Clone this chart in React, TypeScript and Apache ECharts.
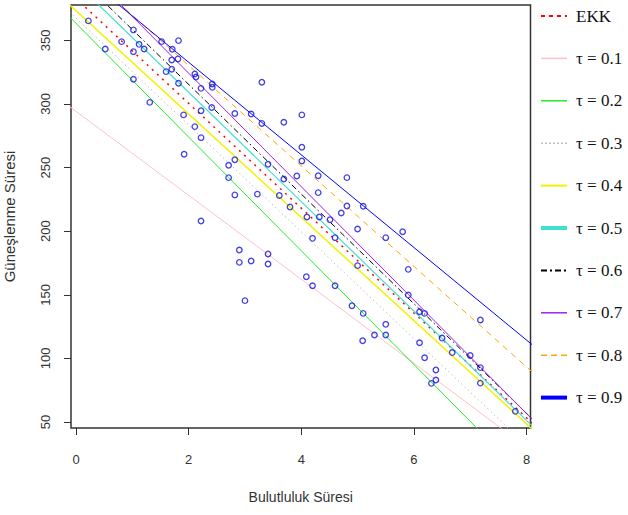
import React, { useEffect, useRef } from "react";
import * as echarts from "echarts";

// Scatter data
const cloudHours = [
  0.22, 1.02, 0.81, 0.52, 1.02, 1.12, 1.21, 1.52, 1.82, 1.71, 1.7, 1.81, 1.6, 1.7, 2.11, 2.13,
  1.02, 1.82, 2.42, 2.42, 2.22, 3.3, 1.31, 2.41, 2.22, 2.82, 3.11, 1.91, 3.69, 3.3, 2.11, 2.22,
  1.92, 2.82, 3.41, 2.71, 3.69, 2.71, 2.82, 3.22, 3.61, 3.8, 2.22, 4.01, 4.01, 4.01, 3.92, 4.3,
  4.81, 4.3, 4.71, 4.81, 5.1, 4.32, 4.1, 4.51, 2.9, 2.9, 3.11, 3.41, 3.41, 3.0, 5.0, 5.5,
  5.8, 4.2, 4.6, 5.9, 5.0, 4.09, 4.2, 4.6, 4.9, 5.1, 5.5, 5.3, 5.5, 5.09, 6.1, 6.19,
  6.39, 6.39, 6.31, 6.1, 6.19, 6.5, 6.68, 7.0, 7.18, 7.18, 7.18, 7.8, 5.9,
];
const sunHours = [
  365.3, 358.2, 349.0, 343.2, 341.1, 346.9, 343.2, 349.0, 349.8, 343.0, 334.6, 335.4, 325.4, 327.3, 323.6, 321.2,
  319.4, 316.3, 315.7, 313.1, 312.3, 317.1, 301.3, 297.2, 294.7, 292.5, 292.1, 291.4, 285.6, 284.7, 282.2, 273.5,
  260.5, 256.2, 252.6, 251.8, 241.0, 242.1, 228.5, 229.1, 228.1, 219.0, 208.0, 291.4, 266.0, 255.2, 243.4, 243.6,
  242.1, 230.3, 214.3, 219.8, 219.6, 211.2, 211.2, 209.0, 185.2, 175.5, 176.6, 182.1, 174.2, 145.4, 201.7, 194.9,
  199.6, 194.4, 194.9, 170.0, 172.9, 164.2, 157.1, 157.1, 141.4, 135.4, 126.8, 118.4, 118.4, 113.9, 112.3, 100.5,
  90.9, 83.0, 80.4, 136.7, 135.4, 116.0, 104.6, 102.3, 130.2, 92.8, 80.6, 58.4, 149.8,
];

// Fitted lines (intercept, slope)
const lineNames = ["EKK", "τ = 0.1", "τ = 0.2", "τ = 0.3", "τ = 0.4", "τ = 0.5", "τ = 0.6", "τ = 0.7", "τ = 0.8", "τ = 0.9"];
const intercepts = [382.9, 294.2, 363.4, 367.5, 373.3, 395.2, 401.6, 413.4, 409.3, 405.6];
const slopes = [-41.2, -33.0, -44.7, -42.0, -40.6, -43.0, -43.1, -44.6, -39.5, -36.4];

// Tick labels
const xTicks = [0, 2, 4, 6, 8];
const yTicks = [50, 100, 150, 200, 250, 300, 350];

// Styles (separate from data)
const lineStyles = [
  { color: "#ff0000", dash: [2, 5], width: 1.5, legendDash: [4, 4], legendWidth: 2 },
  { color: "#ffc0cb", dash: null, width: 1, legendDash: null, legendWidth: 1.5 },
  { color: "#22ee22", dash: null, width: 1, legendDash: null, legendWidth: 1.5 },
  { color: "#bebebe", dash: [1.5, 3], width: 1, legendDash: [2, 2], legendWidth: 1.5 },
  { color: "#f2f200", dash: null, width: 1.5, legendDash: null, legendWidth: 2 },
  { color: "#40e0d0", dash: null, width: 1.2, legendDash: null, legendWidth: 4 },
  { color: "#000000", dash: [6, 3, 1.5, 3], width: 1, legendDash: [6, 3, 2, 3], legendWidth: 2 },
  { color: "#a020f0", dash: null, width: 1, legendDash: null, legendWidth: 1.5 },
  { color: "#ffa500", dash: [6, 5], width: 1, legendDash: [6, 4], legendWidth: 1.5 },
  { color: "#0000ff", dash: null, width: 1, legendDash: null, legendWidth: 4 },
];

const X_MIN = -0.0888;
const X_MAX = 8.07;
const Y_MIN = 45.3;
const Y_MAX = 377.8;

export default function App() {
  const ref = useRef<HTMLDivElement>(null);

  useEffect(() => {
    if (!ref.current) return;
    const chart = echarts.init(ref.current, null, { renderer: "svg" });

    const lineSeries = lineNames.map((name, i) => {
      const st = lineStyles[i];
      const x0 = X_MIN - 0.2;
      const x1 = X_MAX + 0.2;
      return {
        type: "line",
        name,
        data: [
          [x0, intercepts[i] + slopes[i] * x0],
          [x1, intercepts[i] + slopes[i] * x1],
        ],
        symbol: "none",
        showSymbol: false,
        clip: true,
        silent: true,
        z: 2,
        lineStyle: {
          color: st.color,
          width: st.width,
          type: st.dash ? st.dash : "solid",
        },
      };
    });

    const legendGraphics: any[] = [];
    lineNames.forEach((name, i) => {
      const st = lineStyles[i];
      const y = 16 + 42.4 * i;
      legendGraphics.push({
        type: "line",
        shape: { x1: 541, y1: y, x2: 567, y2: y },
        style: {
          stroke: st.color,
          lineWidth: st.legendWidth,
          lineDash: st.legendDash ? st.legendDash : null,
        },
      });
      legendGraphics.push({
        type: "text",
        x: 576,
        y: y,
        style: {
          text: name,
          fill: "#111",
          fontFamily: "'Liberation Serif', 'DejaVu Serif', serif",
          fontSize: 17,
          verticalAlign: "middle",
          align: "left",
        },
      });
    });

    const sansFont = "'Liberation Sans', Arial, sans-serif";

    chart.setOption({
      animation: false,
      backgroundColor: "#ffffff",
      grid: {
        left: 71,
        top: 5,
        right: 97.5,
        bottom: 87,
        show: true,
        containLabel: false,
        outerBoundsMode: "none",
        borderColor: "#333",
        borderWidth: 1.5,
        backgroundColor: "transparent",
      },
      xAxis: {
        type: "value",
        min: X_MIN,
        max: X_MAX,
        name: "Bulutluluk Süresi",
        nameLocation: "middle",
        nameGap: 62,
        nameTextStyle: { fontFamily: sansFont, fontSize: 14, color: "#333" },
        axisLine: { show: false, onZero: false },
        splitLine: { show: false },
        axisTick: {
          show: true,
          length: 7,
          customValues: xTicks,
          lineStyle: { color: "#333", width: 1 },
        },
        axisLabel: {
          customValues: xTicks,
          margin: 25,
          fontFamily: sansFont,
          fontSize: 13,
          color: "#333",
        },
      },
      yAxis: {
        type: "value",
        min: Y_MIN,
        max: Y_MAX,
        name: "Güneşlenme Süresi",
        nameLocation: "middle",
        nameGap: 54,
        nameRotate: 90,
        nameTextStyle: { fontFamily: sansFont, fontSize: 15, color: "#333" },
        axisLine: { show: false, onZero: false },
        splitLine: { show: false },
        axisTick: {
          show: true,
          length: 7,
          customValues: yTicks,
          lineStyle: { color: "#333", width: 1 },
        },
        axisLabel: {
          customValues: yTicks,
          rotate: 90,
          margin: 19,
          fontFamily: sansFont,
          fontSize: 13,
          color: "#333",
        },
      },
      series: [
        ...lineSeries,
        {
          type: "scatter",
          name: "points",
          data: cloudHours.map((x, i) => [x, sunHours[i]]),
          symbol: "circle",
          symbolSize: 5.5,
          z: 3,
          silent: true,
          itemStyle: { color: "rgba(0,0,0,0)", borderColor: "#1010e0", borderWidth: 1.3 },
        },
      ],
      graphic: legendGraphics,
    });

    return () => chart.dispose();
  }, []);

  return (
    <div
      ref={ref}
      style={{ position: "fixed", left: 0, top: 0, width: 628, height: 515 }}
    />
  );
}
